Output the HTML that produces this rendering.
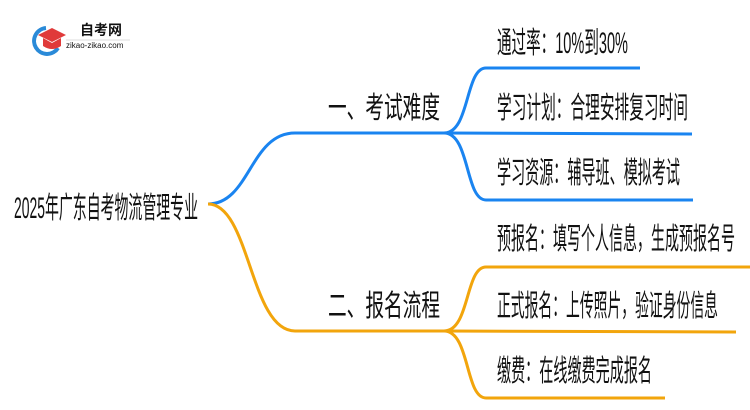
<!DOCTYPE html>
<html><head><meta charset="utf-8"><style>
html,body{margin:0;padding:0;background:#fff;width:750px;height:410px;overflow:hidden}
text{font-family:"Liberation Sans","Noto Sans CJK SC",sans-serif;fill:#111}
</style></head><body>
<svg width="750" height="410" viewBox="0 0 750 410" xmlns="http://www.w3.org/2000/svg">
<!-- logo -->
<path d="M46 28 A13 13 0 1 0 58 48" stroke="#2a8ad8" stroke-width="4" fill="none"/>
<polygon points="38,35 52,28 66,35 52,42" fill="#e03a3a"/>
<path d="M43 38 L43 46 Q52 52 61 46 L61 38 L52 43 Z" fill="#e03a3a"/>
<text x="80" y="35" font-size="14" font-weight="bold" fill="#222">自考网</text>
<line x1="66" y1="40" x2="130" y2="40" stroke="#ddd" stroke-width="1"/>
<text x="66" y="48" font-size="8" fill="#555">zikao-zikao.com</text>
<!-- connectors -->
<g fill="none" stroke-width="3">
<path d="M208 204 C250 204 250 133 295 133 L444 133" stroke="#1a84f0"/>
<path d="M444 133 C470 133 465 68 486 68 L640 68" stroke="#1a84f0"/>
<path d="M444 133 L692 134" stroke="#1a84f0"/>
<path d="M444 133 C470 133 465 200 486 200 L693 200" stroke="#1a84f0"/>
<path d="M208 204 C250 204 250 331 295 331 L444 331" stroke="#f2a50c"/>
<path d="M444 331 C470 331 465 267 486 267 L750 267" stroke="#f2a50c"/>
<path d="M444 331 L736 332" stroke="#f2a50c"/>
<path d="M444 331 C470 331 465 398 486 398 L665 398" stroke="#f2a50c"/>
</g>
<!-- labels -->
<text x="14" y="218" font-size="30" textLength="184" lengthAdjust="spacingAndGlyphs">2025年广东自考物流管理专业</text>
<text x="328" y="118" font-size="30" textLength="112" lengthAdjust="spacingAndGlyphs">一、考试难度</text>
<text x="328" y="316" font-size="30" textLength="112" lengthAdjust="spacingAndGlyphs">二、报名流程</text>
<text x="497" y="53" font-size="30" textLength="131" lengthAdjust="spacingAndGlyphs">通过率：10%到30%</text>
<text x="497" y="118" font-size="30" textLength="191" lengthAdjust="spacingAndGlyphs">学习计划：合理安排复习时间</text>
<text x="497" y="183" font-size="30" textLength="183" lengthAdjust="spacingAndGlyphs">学习资源：辅导班、模拟考试</text>
<text x="497" y="249" font-size="30" textLength="238" lengthAdjust="spacingAndGlyphs">预报名：填写个人信息，生成预报名号</text>
<text x="497" y="316" font-size="30" textLength="221" lengthAdjust="spacingAndGlyphs">正式报名：上传照片，验证身份信息</text>
<text x="497" y="381" font-size="30" textLength="155" lengthAdjust="spacingAndGlyphs">缴费：在线缴费完成报名</text>
</svg>
</body></html>
